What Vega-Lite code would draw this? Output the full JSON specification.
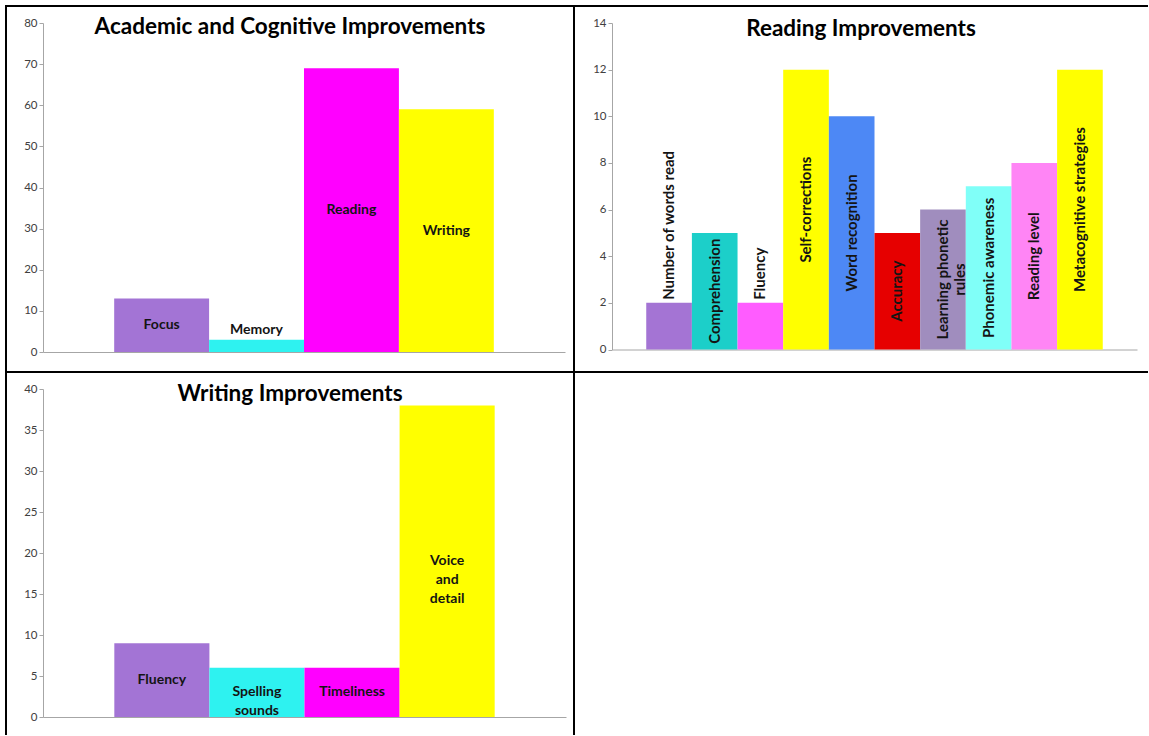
{
  "$schema": "https://vega.github.io/schema/vega-lite/v6.json",
  "padding": {"left": 5, "top": 5, "right": 0, "bottom": 0},
  "background": "white",
  "bounds": "flush",
  "spacing": 0,
  "columns": 2,
  "resolve": {"scale": {"color": "independent", "x": "independent", "y": "independent"}, "axis": {"x": "independent", "y": "independent"}},
  "config": {
    "concat": {"spacing": 0},
    "view": {"stroke": null},
    "font": "Lato",
    "text": {"font": "Lato", "fontWeight": "bold", "fontSize": 14, "color": "#141414", "lineBreak": "\n", "lineHeight": 19}
  },
  "datasets": {
    "academic": [
      {"category": "Focus", "value": 13, "label": "Focus"},
      {"category": "Memory", "value": 3, "label": "Memory"},
      {"category": "Reading", "value": 69, "label": "Reading"},
      {"category": "Writing", "value": 59, "label": "Writing"}
    ],
    "reading": [
      {"category": "Number of words read", "value": 2, "label": "Number of words read"},
      {"category": "Comprehension", "value": 5, "label": "Comprehension"},
      {"category": "Fluency", "value": 2, "label": "Fluency"},
      {"category": "Self-corrections", "value": 12, "label": "Self-corrections"},
      {"category": "Word recognition", "value": 10, "label": "Word recognition"},
      {"category": "Accuracy", "value": 5, "label": "Accuracy"},
      {"category": "Learning phonetic rules", "value": 6, "label": "Learning phonetic\nrules"},
      {"category": "Phonemic awareness", "value": 7, "label": "Phonemic awareness"},
      {"category": "Reading level", "value": 8, "label": "Reading level"},
      {"category": "Metacognitive strategies", "value": 12, "label": "Metacognitive strategies"}
    ],
    "writing": [
      {"category": "Fluency", "value": 9, "label": "Fluency"},
      {"category": "Spelling sounds", "value": 6, "label": "Spelling\nsounds"},
      {"category": "Timeliness", "value": 6, "label": "Timeliness"},
      {"category": "Voice and detail", "value": 38, "label": "Voice\nand\ndetail"}
    ]
  },
  "concat": [
    {
      "width": 568,
      "height": 366,
      "view": {"stroke": "black", "strokeWidth": 2},
      "title": {"text": "Academic and Cognitive Improvements", "fontSize": 22.5, "font": "Lato", "fontWeight": "bold", "color": "black", "anchor": "middle", "frame": "group", "offset": -32},
      "data": {"name": "academic"},
      "transform": [{"calculate": "datum.value / 2", "as": "mid"}],
      "encoding": {
        "x": {"field": "category", "type": "nominal", "sort": null,
          "scale": {"range": [37, 559], "paddingInner": 0, "paddingOuter": 0.75},
          "axis": {"orient": "bottom", "offset": -20, "labels": false, "ticks": false, "title": null, "domainColor": "#A6A6A6", "domainWidth": 1}}
      },
      "layer": [
        {
          "mark": {"type": "bar"},
          "encoding": {
            "y": {"field": "value", "type": "quantitative", "scale": {"domain": [0, 80], "range": [346, 17], "nice": false, "zero": true},
              "axis": {"orient": "left", "offset": -37, "values": [0, 10, 20, 30, 40, 50, 60, 70, 80], "title": null, "grid": false, "domainColor": "#A6A6A6", "tickColor": "#A6A6A6", "tickSize": 4, "labelFontSize": 11.5, "labelColor": "#404040", "labelFont": "Lato", "labelPadding": 2}},
            "color": {"field": "category", "type": "nominal", "legend": null,
              "scale": {"domain": ["Focus", "Memory", "Reading", "Writing"], "range": ["#A374D5", "#2EF2F0", "#FF00FF", "#FFFF00"]}}
          }
        },
        {
          "transform": [{"filter": "datum.value >= 5"}],
          "mark": {"type": "text", "align": "center", "baseline": "middle"},
          "encoding": {
            "y": {"field": "mid", "type": "quantitative", "scale": {"domain": [0, 80], "range": [346, 17], "nice": false, "zero": true},
              "axis": {"orient": "left", "offset": -37, "values": [0, 10, 20, 30, 40, 50, 60, 70, 80], "title": null, "grid": false, "domainColor": "#A6A6A6", "tickColor": "#A6A6A6", "tickSize": 4, "labelFontSize": 11.5, "labelColor": "#404040", "labelFont": "Lato", "labelPadding": 2}},
            "text": {"field": "label"}
          }
        },
        {
          "transform": [{"filter": "datum.value < 5"}],
          "mark": {"type": "text", "align": "center", "baseline": "bottom", "dy": -3},
          "encoding": {
            "y": {"field": "value", "type": "quantitative", "scale": {"domain": [0, 80], "range": [346, 17], "nice": false, "zero": true},
              "axis": {"orient": "left", "offset": -37, "values": [0, 10, 20, 30, 40, 50, 60, 70, 80], "title": null, "grid": false, "domainColor": "#A6A6A6", "tickColor": "#A6A6A6", "tickSize": 4, "labelFontSize": 11.5, "labelColor": "#404040", "labelFont": "Lato", "labelPadding": 2}},
            "text": {"field": "label"}
          }
        }
      ]
    },
    {
      "width": 574,
      "height": 366,
      "view": {"stroke": "black", "strokeWidth": 2, "strokeDash": [574, 366, 940, 0]},
      "title": {"text": "Reading Improvements", "fontSize": 22.5, "font": "Lato", "fontWeight": "bold", "color": "black", "anchor": "middle", "frame": "group", "offset": -34},
      "data": {"name": "reading"},
      "transform": [{"calculate": "datum.value / 2", "as": "mid"}],
      "encoding": {
        "x": {"field": "category", "type": "nominal", "sort": null,
          "scale": {"range": [38, 563], "paddingInner": 0, "paddingOuter": 0.75},
          "axis": {"orient": "bottom", "offset": -22.5, "labels": false, "ticks": false, "title": null, "domainColor": "#A6A6A6", "domainWidth": 1}}
      },
      "layer": [
        {
          "mark": {"type": "bar"},
          "encoding": {
            "y": {"field": "value", "type": "quantitative", "scale": {"domain": [0, 14], "range": [343.5, 17], "nice": false, "zero": true},
              "axis": {"orient": "left", "offset": -38, "values": [0, 2, 4, 6, 8, 10, 12, 14], "title": null, "grid": false, "domainColor": "#A6A6A6", "tickColor": "#A6A6A6", "tickSize": 4, "labelFontSize": 11.5, "labelColor": "#404040", "labelFont": "Lato", "labelPadding": 2}},
            "color": {"field": "category", "type": "nominal", "legend": null,
              "scale": {"domain": ["Number of words read", "Comprehension", "Fluency", "Self-corrections", "Word recognition", "Accuracy", "Learning phonetic rules", "Phonemic awareness", "Reading level", "Metacognitive strategies"],
                "range": ["#A474D4", "#1CCFC9", "#FF5CFF", "#FFFF00", "#4D88F5", "#E60000", "#A08DBE", "#80FFF8", "#FF85F5", "#FFFF00"]}}
          }
        },
        {
          "transform": [{"filter": "datum.value > 2"}],
          "mark": {"type": "text", "align": "center", "baseline": "middle", "angle": 270, "fontSize": 15, "lineHeight": 17},
          "encoding": {
            "y": {"field": "mid", "type": "quantitative", "scale": {"domain": [0, 14], "range": [343.5, 17], "nice": false, "zero": true},
              "axis": {"orient": "left", "offset": -38, "values": [0, 2, 4, 6, 8, 10, 12, 14], "title": null, "grid": false, "domainColor": "#A6A6A6", "tickColor": "#A6A6A6", "tickSize": 4, "labelFontSize": 11.5, "labelColor": "#404040", "labelFont": "Lato", "labelPadding": 2}},
            "text": {"field": "label"}
          }
        },
        {
          "transform": [{"filter": "datum.value <= 2"}],
          "mark": {"type": "text", "align": "left", "baseline": "middle", "angle": 270, "dx": 3, "fontSize": 15, "lineHeight": 17},
          "encoding": {
            "y": {"field": "value", "type": "quantitative", "scale": {"domain": [0, 14], "range": [343.5, 17], "nice": false, "zero": true},
              "axis": {"orient": "left", "offset": -38, "values": [0, 2, 4, 6, 8, 10, 12, 14], "title": null, "grid": false, "domainColor": "#A6A6A6", "tickColor": "#A6A6A6", "tickSize": 4, "labelFontSize": 11.5, "labelColor": "#404040", "labelFont": "Lato", "labelPadding": 2}},
            "text": {"field": "label"}
          }
        }
      ]
    },
    {
      "width": 568,
      "height": 363,
      "view": {"stroke": "black", "strokeWidth": 2, "strokeDash": [931, 568, 363, 0]},
      "title": {"text": "Writing Improvements", "fontSize": 22.5, "font": "Lato", "fontWeight": "bold", "color": "black", "anchor": "middle", "frame": "group", "offset": -33},
      "data": {"name": "writing"},
      "transform": [{"calculate": "datum.value / 2", "as": "mid"}],
      "encoding": {
        "x": {"field": "category", "type": "nominal", "sort": null,
          "scale": {"range": [37, 560], "paddingInner": 0, "paddingOuter": 0.75},
          "axis": {"orient": "bottom", "offset": -18, "labels": false, "ticks": false, "title": null, "domainColor": "#A6A6A6", "domainWidth": 1}}
      },
      "layer": [
        {
          "mark": {"type": "bar"},
          "encoding": {
            "y": {"field": "value", "type": "quantitative", "scale": {"domain": [0, 40], "range": [345, 17], "nice": false, "zero": true},
              "axis": {"orient": "left", "offset": -37, "values": [0, 5, 10, 15, 20, 25, 30, 35, 40], "title": null, "grid": false, "domainColor": "#A6A6A6", "tickColor": "#A6A6A6", "tickSize": 4, "labelFontSize": 11.5, "labelColor": "#404040", "labelFont": "Lato", "labelPadding": 2}},
            "color": {"field": "category", "type": "nominal", "legend": null,
              "scale": {"domain": ["Fluency", "Spelling sounds", "Timeliness", "Voice and detail"], "range": ["#A374D5", "#2EF2F0", "#FF00FF", "#FFFF00"]}}
          }
        },
        {
          "mark": {"type": "text", "align": "center", "baseline": "middle"},
          "encoding": {
            "y": {"field": "mid", "type": "quantitative", "scale": {"domain": [0, 40], "range": [345, 17], "nice": false, "zero": true},
              "axis": {"orient": "left", "offset": -37, "values": [0, 5, 10, 15, 20, 25, 30, 35, 40], "title": null, "grid": false, "domainColor": "#A6A6A6", "tickColor": "#A6A6A6", "tickSize": 4, "labelFontSize": 11.5, "labelColor": "#404040", "labelFont": "Lato", "labelPadding": 2}},
            "text": {"field": "label"}
          }
        }
      ]
    }
  ]
}
